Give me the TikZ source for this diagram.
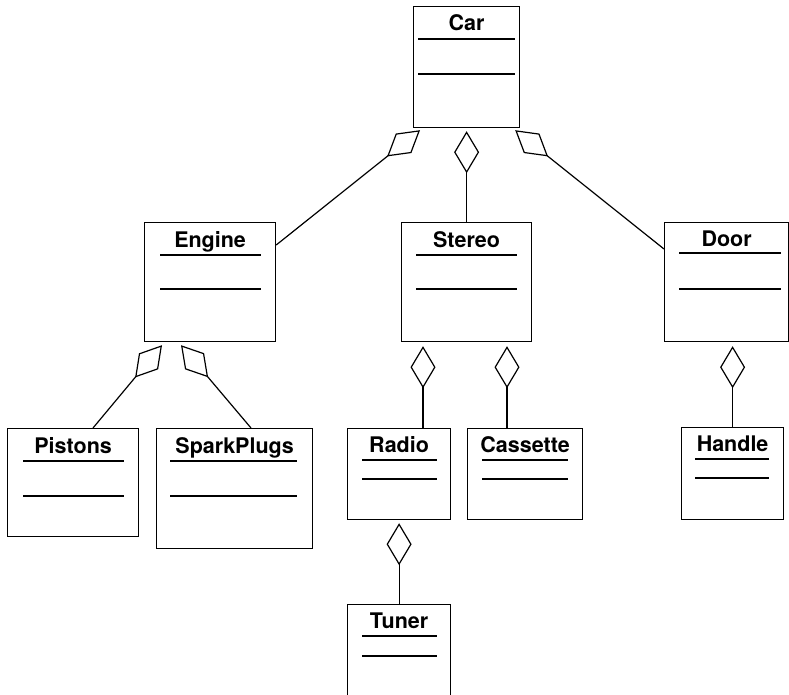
\documentclass[tikz,border=0pt]{standalone}
\usepackage{fontspec}
\setmainfont{TeX Gyre Heros}
\usetikzlibrary{arrows.meta}

\begin{document}
\begin{tikzpicture}[x=1pt,y=-1pt,
cls/.style={draw,line width=1.2pt,anchor=north west,inner sep=0pt},
ttl/.style={anchor=base,inner sep=0pt,font=\fontsize{21.5}{26}\selectfont\bfseries},
sep/.style={line width=1.2pt},
agg/.style={{Diamond[open,length=42pt,width=25pt]}-,line width=1.2pt}]
\clip (0,0) rectangle (789,695);
% classes
\node[cls,minimum width=106,minimum height=121] (car) at (413,6) {};
\node[cls,minimum width=131,minimum height=119] (engine) at (144,222) {};
\node[cls,minimum width=130,minimum height=119] (stereo) at (401,222) {};
\node[cls,minimum width=124,minimum height=119] (door) at (664,222) {};
\node[cls,minimum width=131,minimum height=108] (pistons) at (7,428) {};
\node[cls,minimum width=156,minimum height=120] (plugs) at (156,428) {};
\node[cls,minimum width=103,minimum height=91] (radio) at (347,428) {};
\node[cls,minimum width=115,minimum height=91] (cassette) at (467,428) {};
\node[cls,minimum width=102,minimum height=92] (handle) at (681,427) {};
\node[cls,minimum width=103,minimum height=110] (tuner) at (347,604) {};
% names
\node[ttl] (carname) at ([yshift=-25]car.north) {Car};
\node[ttl] (enginename) at ([yshift=-25]engine.north) {Engine};
\node[ttl] (stereoname) at ([yshift=-25]stereo.north) {Stereo};
\node[ttl] (doorname) at ([yshift=-24]door.north) {Door};
\node[ttl] (pistonsname) at ([yshift=-25]pistons.north) {Pistons};
\node[ttl] (plugsname) at ([yshift=-25]plugs.north) {SparkPlugs};
\node[ttl] (radioname) at ([yshift=-24]radio.north) {Radio};
\node[ttl] (cassettename) at ([yshift=-24]cassette.north) {Cassette};
\node[ttl] (handlename) at ([yshift=-24]handle.north) {Handle};
\node[ttl] (tunername) at ([yshift=-24]tuner.north) {Tuner};
% compartments
\draw[sep] ([shift={(5,33)}]car.north west) -- ([shift={(-5,33)}]car.north east);
\draw[sep] ([shift={(5,68)}]car.north west) -- ([shift={(-5,68)}]car.north east);
\draw[sep] ([shift={(16,33)}]engine.north west) -- ([shift={(-15,33)}]engine.north east);
\draw[sep] ([shift={(16,67)}]engine.north west) -- ([shift={(-15,67)}]engine.north east);
\draw[sep] ([shift={(15,33)}]stereo.north west) -- ([shift={(-15,33)}]stereo.north east);
\draw[sep] ([shift={(15,67)}]stereo.north west) -- ([shift={(-15,67)}]stereo.north east);
\draw[sep] ([shift={(15,31)}]door.north west) -- ([shift={(-8,31)}]door.north east);
\draw[sep] ([shift={(15,67)}]door.north west) -- ([shift={(-8,67)}]door.north east);
\draw[sep] ([shift={(16,33)}]pistons.north west) -- ([shift={(-15,33)}]pistons.north east);
\draw[sep] ([shift={(16,68)}]pistons.north west) -- ([shift={(-15,68)}]pistons.north east);
\draw[sep] ([shift={(14,33)}]plugs.north west) -- ([shift={(-16,33)}]plugs.north east);
\draw[sep] ([shift={(14,68)}]plugs.north west) -- ([shift={(-16,68)}]plugs.north east);
\draw[sep] ([shift={(15,32)}]radio.north west) -- ([shift={(-14,32)}]radio.north east);
\draw[sep] ([shift={(15,51)}]radio.north west) -- ([shift={(-14,51)}]radio.north east);
\draw[sep] ([shift={(15,32)}]cassette.north west) -- ([shift={(-15,32)}]cassette.north east);
\draw[sep] ([shift={(15,51)}]cassette.north west) -- ([shift={(-15,51)}]cassette.north east);
\draw[sep] ([shift={(14,32)}]handle.north west) -- ([shift={(-15,32)}]handle.north east);
\draw[sep] ([shift={(14,51)}]handle.north west) -- ([shift={(-15,51)}]handle.north east);
\draw[sep] ([shift={(15,32)}]tuner.north west) -- ([shift={(-14,32)}]tuner.north east);
\draw[sep] ([shift={(15,52)}]tuner.north west) -- ([shift={(-14,52)}]tuner.north east);
% aggregations
\draw[agg] ([shift={(7,2)}]car.south west) -- ([shift={(0,23)}]engine.north east);
\draw[agg] ([shift={(0,3)}]car.south) -- (stereo.north);
\draw[agg] ([shift={(-5,2)}]car.south east) -- ([shift={(0,27)}]door.north west);
\draw[agg] ([shift={(18,3)}]engine.south west) -- ([shift={(86,0)}]pistons.north west);
\draw[agg] ([shift={(37,3)}]engine.south west) -- ([shift={(95,0)}]plugs.north west);
\draw[agg] ([shift={(22,4)}]stereo.south west) -- ([shift={(76,0)}]radio.north west);
\draw[agg] ([shift={(106,4)}]stereo.south west) -- ([shift={(40,0)}]cassette.north west);
\draw[agg] ([shift={(0,3)}]radio.south) -- (tuner.north);
\draw[agg] ([shift={(6,4)}]door.south) -- (handle.north);
\end{tikzpicture}
\end{document}
